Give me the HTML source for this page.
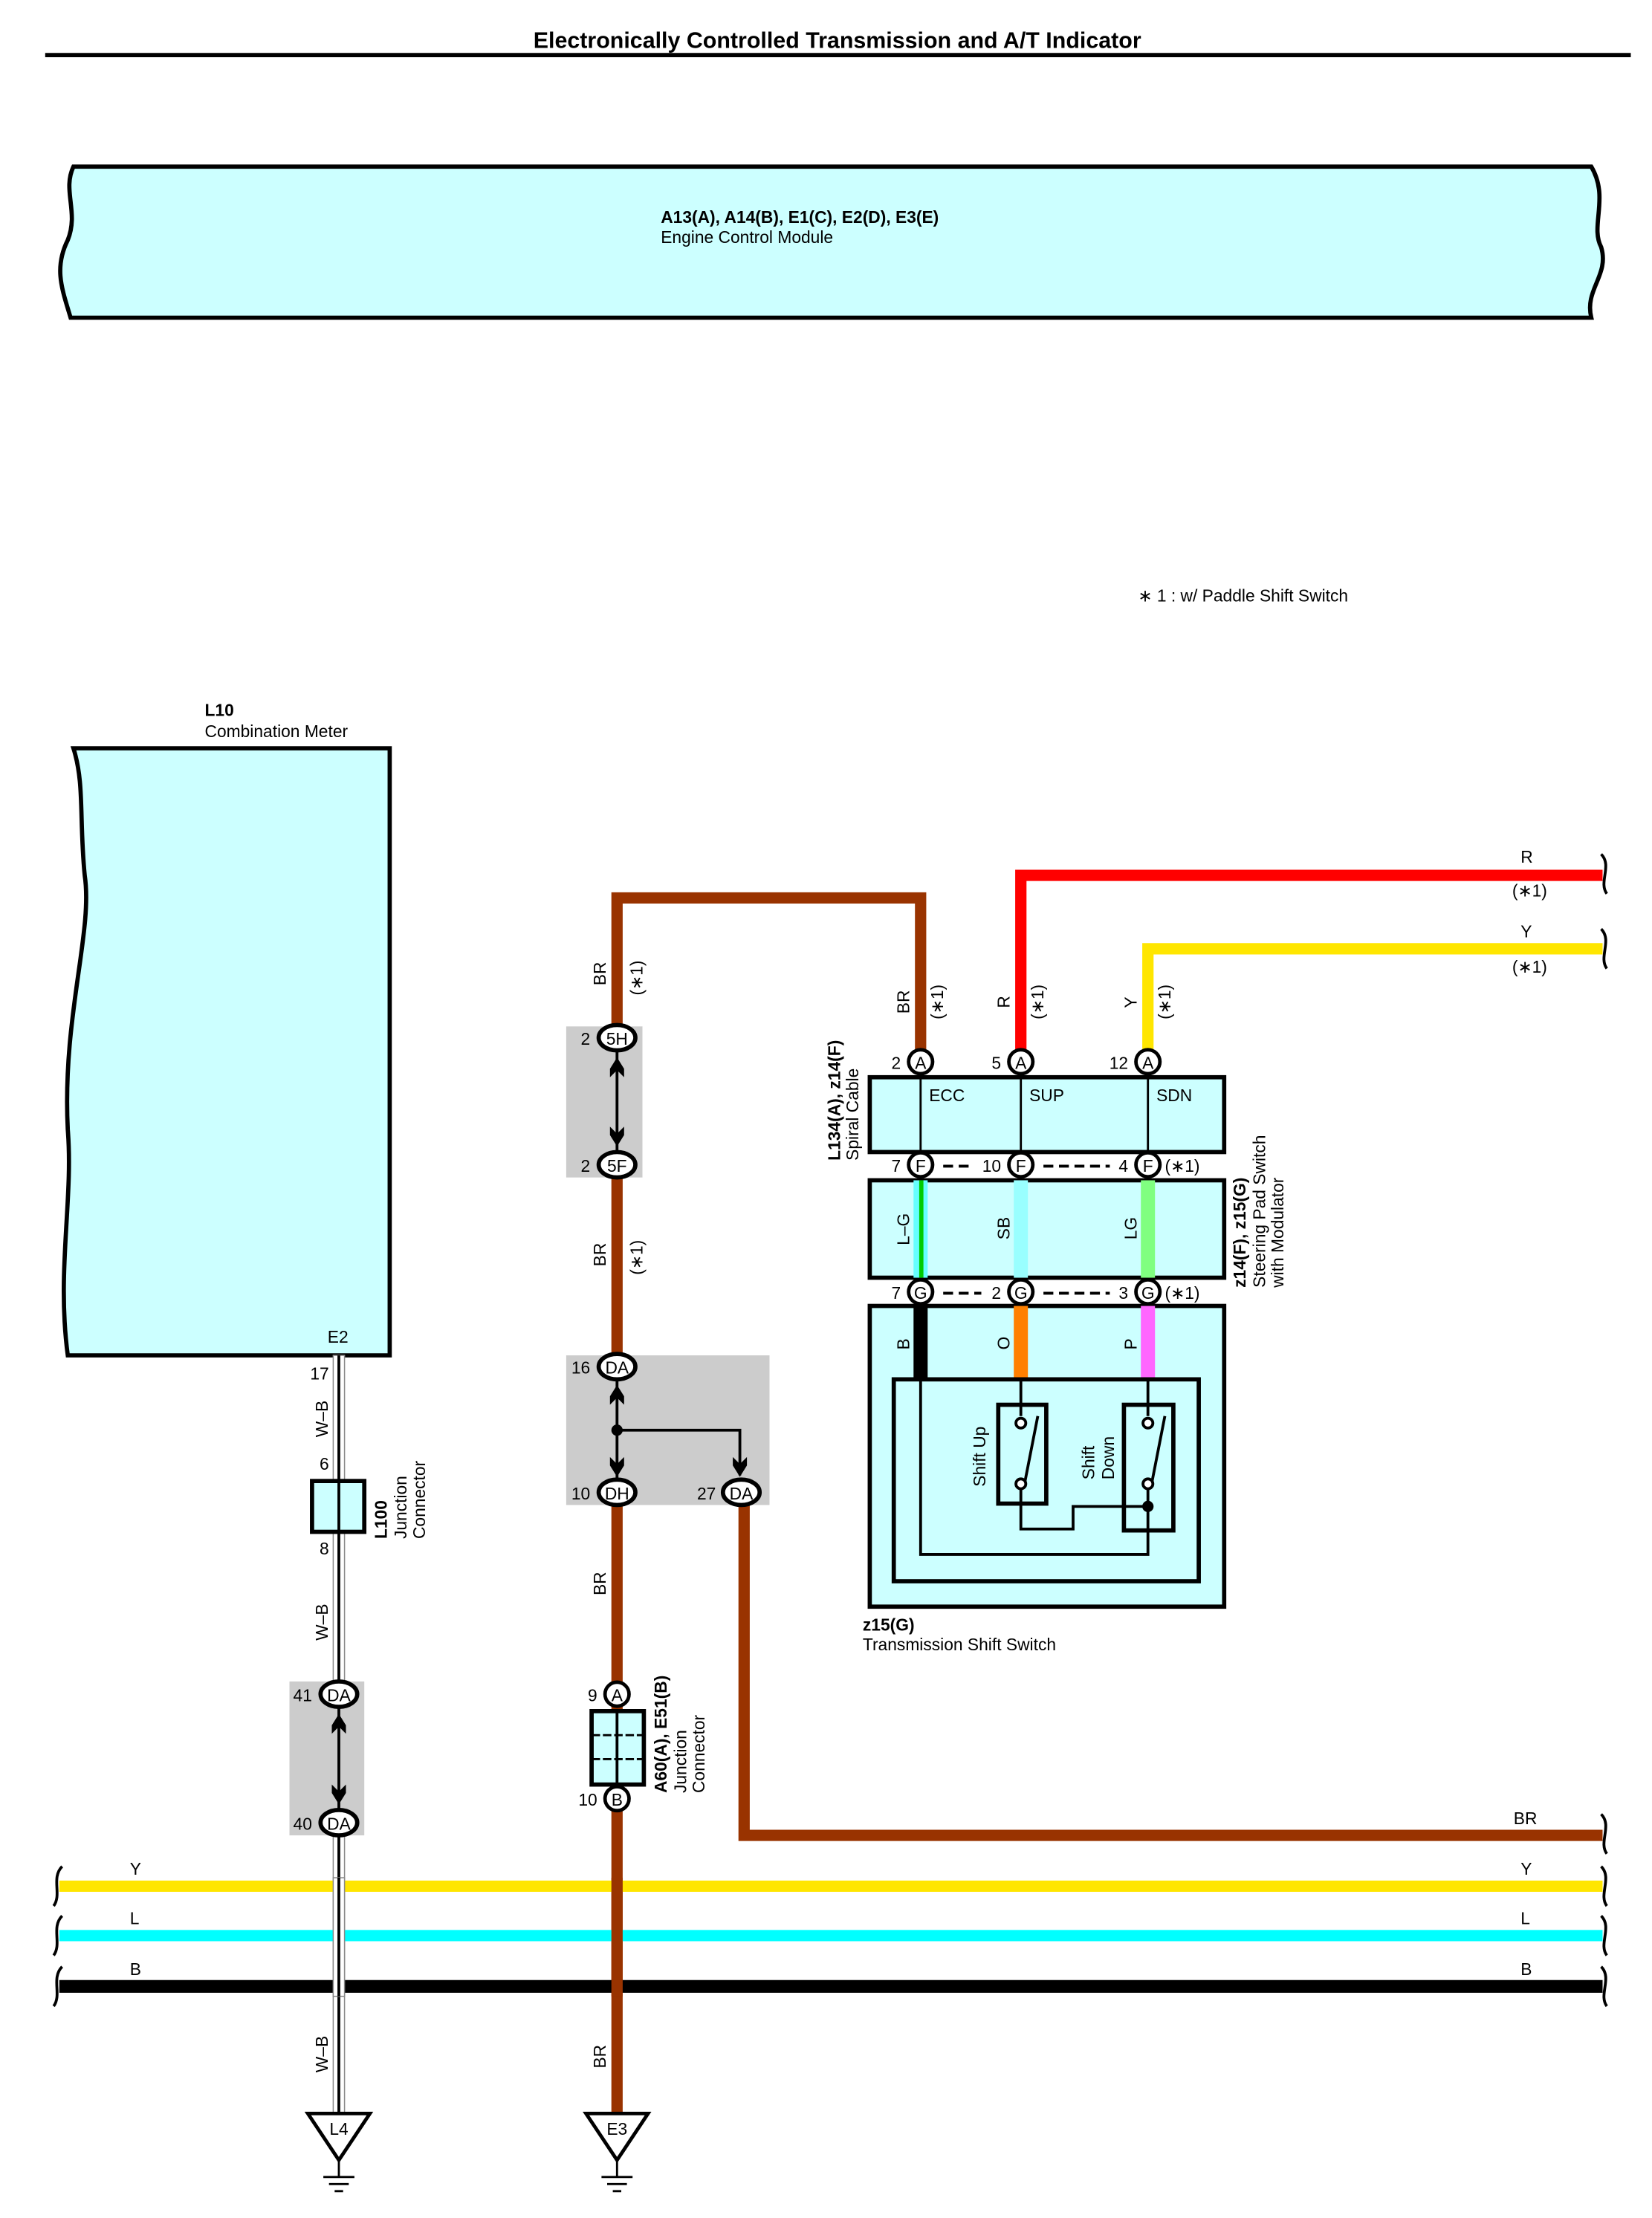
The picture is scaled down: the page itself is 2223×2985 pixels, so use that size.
<!DOCTYPE html>
<html><head><meta charset="utf-8"><style>
html,body{margin:0;padding:0;background:#fff;}
svg{display:block;}
text{font-family:"Liberation Sans",Arial,sans-serif;fill:#000;}
</style></head><body>
<svg width="2223" height="2985" viewBox="0 0 1170 1571" xmlns="http://www.w3.org/2000/svg">
<defs>
<path id="chU" d="M-5,2 L0,-6 L5,2 L5,8 L0,3 L-5,8 Z" fill="#000"/>
<path id="chD" d="M-5,-2 L0,6 L5,-2 L5,-8 L0,-3 L-5,-8 Z" fill="#000"/>
</defs>
<!-- title -->
<text x="593" y="34" font-size="16" font-weight="bold" text-anchor="middle">Electronically Controlled Transmission and A/T Indicator</text>
<line x1="32" y1="39" x2="1155" y2="39" stroke="#000" stroke-width="3"/>
<!-- ECM -->
<path d="M52,118 L1127,118 C1140,140 1126,160 1134,175 C1140,195 1122,205 1127,225 L50,225 C44,205 38,190 48,170 C56,150 44,135 52,118 Z" fill="#ccffff" stroke="#000" stroke-width="3"/>
<text x="468" y="158" font-size="12" font-weight="bold">A13(A), A14(B), E1(C), E2(D), E3(E)</text>
<text x="468" y="172" font-size="12">Engine Control Module</text>
<text x="806" y="426" font-size="12">∗ 1 : w/ Paddle Shift Switch</text>
<!-- L10 combination meter -->
<text x="145" y="507" font-size="12" font-weight="bold">L10</text>
<text x="145" y="522" font-size="12">Combination Meter</text>
<path d="M52,530 L276,530 L276,960 L48,960 C40,900 52,850 48,800 C44,720 66,660 60,620 C56,580 60,555 52,530 Z" fill="#ccffff" stroke="#000" stroke-width="3"/>
<text x="232" y="951" font-size="12">E2</text>
<!-- W-B wire -->
<rect x="236" y="960" width="8" height="540" fill="#fff" stroke="#888" stroke-width="0.8"/>
<line x1="240" y1="960" x2="240" y2="1500" stroke="#000" stroke-width="2"/>
<text x="233" y="977" font-size="12" text-anchor="end">17</text>
<text x="233" y="1041" font-size="12" text-anchor="end">6</text>
<text x="233" y="1101" font-size="12" text-anchor="end">8</text>
<text transform="translate(232,1018) rotate(-90)" font-size="12">W–B</text>
<text transform="translate(232,1162) rotate(-90)" font-size="12">W–B</text>
<text transform="translate(232,1468) rotate(-90)" font-size="12">W–B</text>
<rect x="221" y="1049" width="37" height="36" fill="#ccffff" stroke="#000" stroke-width="3"/>
<line x1="240" y1="1049" x2="240" y2="1085" stroke="#000" stroke-width="2"/>
<text transform="translate(274,1090) rotate(-90)" font-size="12" font-weight="bold">L100</text>
<text transform="translate(288,1090) rotate(-90)" font-size="12">Junction</text>
<text transform="translate(301,1090) rotate(-90)" font-size="12">Connector</text>
<rect x="205" y="1191" width="53" height="109" fill="#cccccc"/>
<line x1="240" y1="1208" x2="240" y2="1282" stroke="#000" stroke-width="2"/>
<use href="#chU" x="240" y="1220"/><use href="#chD" x="240" y="1272"/>
<ellipse cx="240" cy="1200" rx="13" ry="9" fill="#fff" stroke="#000" stroke-width="3"/>
<text x="240" y="1205" font-size="12" text-anchor="middle">DA</text>
<text x="221" y="1205" font-size="12" text-anchor="end">41</text>
<ellipse cx="240" cy="1291" rx="13" ry="9" fill="#fff" stroke="#000" stroke-width="3"/>
<text x="240" y="1296" font-size="12" text-anchor="middle">DA</text>
<text x="221" y="1296" font-size="12" text-anchor="end">40</text>
<!-- BR wire main -->
<polyline points="437,1500 437,636 652,636 652,752" fill="none" stroke="#993300" stroke-width="8"/>
<polyline points="527,1060 527,1300 1135,1300" fill="none" stroke="#993300" stroke-width="8"/>
<text x="1072" y="1292" font-size="12">BR</text>
<text transform="translate(429,698) rotate(-90)" font-size="12">BR</text>
<text transform="translate(455,705) rotate(-90)" font-size="12">(∗1)</text>
<text transform="translate(429,897) rotate(-90)" font-size="12">BR</text>
<text transform="translate(455,903) rotate(-90)" font-size="12">(∗1)</text>
<text transform="translate(429,1130) rotate(-90)" font-size="12">BR</text>
<text transform="translate(429,1465) rotate(-90)" font-size="12">BR</text>
<!-- grey box 5H/5F -->
<rect x="401" y="727" width="54" height="107" fill="#cccccc"/>
<line x1="437" y1="743" x2="437" y2="817" stroke="#000" stroke-width="2"/>
<use href="#chU" x="437" y="755"/><use href="#chD" x="437" y="806"/>
<ellipse cx="437" cy="735" rx="13" ry="9" fill="#fff" stroke="#000" stroke-width="3"/>
<text x="437" y="740" font-size="12" text-anchor="middle">5H</text>
<text x="418" y="740" font-size="12" text-anchor="end">2</text>
<ellipse cx="437" cy="825" rx="13" ry="9" fill="#fff" stroke="#000" stroke-width="3"/>
<text x="437" y="830" font-size="12" text-anchor="middle">5F</text>
<text x="418" y="830" font-size="12" text-anchor="end">2</text>
<!-- grey box DA/DH/DA -->
<rect x="401" y="960" width="144" height="106" fill="#cccccc"/>
<line x1="437" y1="976" x2="437" y2="1048" stroke="#000" stroke-width="2"/>
<polyline points="437,1013 524,1013 524,1045" fill="none" stroke="#000" stroke-width="2"/>
<circle cx="437" cy="1013" r="4"/>
<use href="#chU" x="437" y="987"/><use href="#chD" x="437" y="1040"/><use href="#chD" x="524" y="1040"/>
<ellipse cx="437" cy="968" rx="13" ry="9" fill="#fff" stroke="#000" stroke-width="3"/>
<text x="437" y="973" font-size="12" text-anchor="middle">DA</text>
<text x="418" y="973" font-size="12" text-anchor="end">16</text>
<ellipse cx="437" cy="1057" rx="13" ry="9" fill="#fff" stroke="#000" stroke-width="3"/>
<text x="437" y="1062" font-size="12" text-anchor="middle">DH</text>
<text x="418" y="1062" font-size="12" text-anchor="end">10</text>
<ellipse cx="525" cy="1057" rx="13" ry="9" fill="#fff" stroke="#000" stroke-width="3"/>
<text x="525" y="1062" font-size="12" text-anchor="middle">DA</text>
<text x="507" y="1062" font-size="12" text-anchor="end">27</text>
<!-- A60 junction -->
<rect x="419" y="1212" width="37" height="52" fill="#ccffff" stroke="#000" stroke-width="3"/>
<line x1="437" y1="1212" x2="437" y2="1264" stroke="#000" stroke-width="2"/>
<line x1="419" y1="1229" x2="456" y2="1229" stroke="#000" stroke-width="1.5" stroke-dasharray="6,2"/>
<line x1="419" y1="1246" x2="456" y2="1246" stroke="#000" stroke-width="1.5" stroke-dasharray="6,2"/>
<circle cx="437" cy="1200" r="8.5" fill="#fff" stroke="#000" stroke-width="2.5"/>
<text x="437" y="1205" font-size="12" text-anchor="middle">A</text>
<text x="423" y="1205" font-size="12" text-anchor="end">9</text>
<circle cx="437" cy="1274" r="8.5" fill="#fff" stroke="#000" stroke-width="2.5"/>
<text x="437" y="1279" font-size="12" text-anchor="middle">B</text>
<text x="423" y="1279" font-size="12" text-anchor="end">10</text>
<text transform="translate(472,1270) rotate(-90)" font-size="12" font-weight="bold">A60(A), E51(B)</text>
<text transform="translate(486,1270) rotate(-90)" font-size="12">Junction</text>
<text transform="translate(499,1270) rotate(-90)" font-size="12">Connector</text>
<!-- bus wires -->
<line x1="42" y1="1336" x2="1135" y2="1336" stroke="#ffe600" stroke-width="8"/>
<line x1="42" y1="1371" x2="1135" y2="1371" stroke="#00ffff" stroke-width="8"/>
<line x1="42" y1="1407" x2="1135" y2="1407" stroke="#000" stroke-width="9"/>
<rect x="236" y="1330" width="8" height="84" fill="#fff" stroke="#888" stroke-width="0.8"/>
<line x1="240" y1="1330" x2="240" y2="1414" stroke="#000" stroke-width="2"/>
<rect x="433" y="1330" width="8" height="84" fill="#993300"/>
<text x="92" y="1328" font-size="12">Y</text><text x="1077" y="1328" font-size="12">Y</text>
<text x="92" y="1363" font-size="12">L</text><text x="1077" y="1363" font-size="12">L</text>
<text x="92" y="1399" font-size="12">B</text><text x="1077" y="1399" font-size="12">B</text>
<g fill="none" stroke="#000" stroke-width="2">
<path d="M44,1322 C36,1330 44,1342 38,1350"/>
<path d="M44,1357 C36,1365 44,1377 38,1385"/>
<path d="M44,1393 C36,1401 44,1413 38,1421"/>
<path d="M1134,1285 C1142,1293 1132,1305 1138,1313"/>
<path d="M1134,1322 C1142,1330 1132,1342 1138,1350"/>
<path d="M1134,1357 C1142,1365 1132,1377 1138,1385"/>
<path d="M1134,1393 C1142,1401 1132,1413 1138,1421"/>
<path d="M1134,605 C1142,613 1132,625 1138,633"/>
<path d="M1134,658 C1142,666 1132,678 1138,686"/>
</g>
<!-- grounds -->
<g fill="#fff" stroke="#000" stroke-width="2.5">
<path d="M218,1497 L262,1497 L240,1530 Z"/>
<path d="M415,1497 L459,1497 L437,1530 Z"/>
</g>
<text x="240" y="1512" font-size="12" text-anchor="middle">L4</text>
<text x="437" y="1512" font-size="12" text-anchor="middle">E3</text>
<g stroke="#000" stroke-width="1.5">
<line x1="240" y1="1530" x2="240" y2="1542"/><line x1="229" y1="1542" x2="251" y2="1542"/><line x1="233" y1="1547" x2="247" y2="1547"/><line x1="237" y1="1552" x2="243" y2="1552"/>
<line x1="437" y1="1530" x2="437" y2="1542"/><line x1="426" y1="1542" x2="448" y2="1542"/><line x1="430" y1="1547" x2="444" y2="1547"/><line x1="434" y1="1552" x2="440" y2="1552"/>
</g>
<!-- R and Y wires -->
<polyline points="723,752 723,620 1135,620" fill="none" stroke="#ff0000" stroke-width="8"/>
<polyline points="813,752 813,672 1135,672" fill="none" stroke="#ffe600" stroke-width="8"/>
<text x="1077" y="611" font-size="12">R</text><text x="1071" y="635" font-size="12">(∗1)</text>
<text x="1077" y="664" font-size="12">Y</text><text x="1071" y="689" font-size="12">(∗1)</text>
<text transform="translate(644,718) rotate(-90)" font-size="12">BR</text>
<text transform="translate(668,722) rotate(-90)" font-size="12">(∗1)</text>
<text transform="translate(715,714) rotate(-90)" font-size="12">R</text>
<text transform="translate(739,722) rotate(-90)" font-size="12">(∗1)</text>
<text transform="translate(805,714) rotate(-90)" font-size="12">Y</text>
<text transform="translate(829,722) rotate(-90)" font-size="12">(∗1)</text>
<!-- spiral cable box -->
<rect x="616" y="763" width="251" height="53" fill="#ccffff" stroke="#000" stroke-width="3"/>
<line x1="652" y1="752" x2="652" y2="825" stroke="#000" stroke-width="1.5"/>
<line x1="723" y1="752" x2="723" y2="825" stroke="#000" stroke-width="1.5"/>
<line x1="813" y1="752" x2="813" y2="825" stroke="#000" stroke-width="1.5"/>
<text x="658" y="780" font-size="12">ECC</text>
<text x="729" y="780" font-size="12">SUP</text>
<text x="819" y="780" font-size="12">SDN</text>
<text transform="translate(595,822) rotate(-90)" font-size="12" font-weight="bold">L134(A), z14(F)</text>
<text transform="translate(608,822) rotate(-90)" font-size="12">Spiral Cable</text>
<!-- steering box -->
<rect x="616" y="836" width="251" height="69" fill="#ccffff" stroke="#000" stroke-width="3"/>
<rect x="647" y="836" width="10" height="69" fill="#66ffff"/>
<rect x="651" y="836" width="3" height="69" fill="#00cc00"/>
<rect x="718" y="836" width="10" height="69" fill="#99ffff"/>
<rect x="808" y="836" width="10" height="69" fill="#80ff80"/>
<text transform="translate(644,882) rotate(-90)" font-size="12">L–G</text>
<text transform="translate(715,878) rotate(-90)" font-size="12">SB</text>
<text transform="translate(805,878) rotate(-90)" font-size="12">LG</text>
<text transform="translate(882,912) rotate(-90)" font-size="12" font-weight="bold">z14(F), z15(G)</text>
<text transform="translate(896,912) rotate(-90)" font-size="12">Steering Pad Switch</text>
<text transform="translate(909,912) rotate(-90)" font-size="12">with Modulator</text>
<!-- shift switch box -->
<rect x="616" y="925" width="251" height="213" fill="#ccffff" stroke="#000" stroke-width="3"/>
<rect x="647" y="925" width="10" height="52" fill="#000"/>
<rect x="718" y="925" width="10" height="52" fill="#ff8000"/>
<rect x="808" y="925" width="10" height="52" fill="#ff66ff"/>
<text transform="translate(644,956) rotate(-90)" font-size="12">B</text>
<text transform="translate(715,956) rotate(-90)" font-size="12">O</text>
<text transform="translate(805,956) rotate(-90)" font-size="12">P</text>
<rect x="633" y="977" width="216" height="143" fill="none" stroke="#000" stroke-width="3"/>
<rect x="707" y="995" width="34" height="70" fill="none" stroke="#000" stroke-width="3"/>
<rect x="796" y="995" width="35" height="89" fill="none" stroke="#000" stroke-width="3"/>
<g fill="none" stroke="#000" stroke-width="2">
<polyline points="652,977 652,1101 813,1101 813,1052"/>
<polyline points="723,977 723,1003"/>
<polyline points="723,1052 723,1083 760,1083 760,1067 813,1067"/>
<polyline points="813,977 813,1003"/>
<line x1="726" y1="1049" x2="735" y2="1003"/>
<line x1="816" y1="1049" x2="825" y2="1003"/>
</g>
<g fill="#fff" stroke="#000" stroke-width="2">
<circle cx="723" cy="1008" r="3.5"/><circle cx="723" cy="1051" r="3.5"/>
<circle cx="813" cy="1008" r="3.5"/><circle cx="813" cy="1051" r="3.5"/>
</g>
<circle cx="813" cy="1067" r="4"/>
<text transform="translate(698,1053) rotate(-90)" font-size="12">Shift Up</text>
<text transform="translate(775,1048) rotate(-90)" font-size="12">Shift</text>
<text transform="translate(789,1048) rotate(-90)" font-size="12">Down</text>
<text x="611" y="1155" font-size="12" font-weight="bold">z15(G)</text>
<text x="611" y="1169" font-size="12">Transmission Shift Switch</text>
<!-- A/F/G connectors -->
<g font-size="12">
<circle cx="652" cy="752" r="8.5" fill="#fff" stroke="#000" stroke-width="2.5"/><text x="652" y="757" text-anchor="middle">A</text><text x="638" y="757" text-anchor="end">2</text>
<circle cx="723" cy="752" r="8.5" fill="#fff" stroke="#000" stroke-width="2.5"/><text x="723" y="757" text-anchor="middle">A</text><text x="709" y="757" text-anchor="end">5</text>
<circle cx="813" cy="752" r="8.5" fill="#fff" stroke="#000" stroke-width="2.5"/><text x="813" y="757" text-anchor="middle">A</text><text x="799" y="757" text-anchor="end">12</text>
<circle cx="652" cy="825" r="8.5" fill="#fff" stroke="#000" stroke-width="2.5"/><text x="652" y="830" text-anchor="middle">F</text><text x="638" y="830" text-anchor="end">7</text>
<circle cx="723" cy="825" r="8.5" fill="#fff" stroke="#000" stroke-width="2.5"/><text x="723" y="830" text-anchor="middle">F</text><text x="709" y="830" text-anchor="end">10</text>
<circle cx="813" cy="825" r="8.5" fill="#fff" stroke="#000" stroke-width="2.5"/><text x="813" y="830" text-anchor="middle">F</text><text x="799" y="830" text-anchor="end">4</text>
<text x="825" y="830">(∗1)</text>
<circle cx="652" cy="915" r="8.5" fill="#fff" stroke="#000" stroke-width="2.5"/><text x="652" y="920" text-anchor="middle">G</text><text x="638" y="920" text-anchor="end">7</text>
<circle cx="723" cy="915" r="8.5" fill="#fff" stroke="#000" stroke-width="2.5"/><text x="723" y="920" text-anchor="middle">G</text><text x="709" y="920" text-anchor="end">2</text>
<circle cx="813" cy="915" r="8.5" fill="#fff" stroke="#000" stroke-width="2.5"/><text x="813" y="920" text-anchor="middle">G</text><text x="799" y="920" text-anchor="end">3</text>
<text x="825" y="920">(∗1)</text>
</g>
<g stroke="#000" stroke-width="2" stroke-dasharray="7,4">
<line x1="668" y1="826" x2="688" y2="826"/>
<line x1="739" y1="826" x2="786" y2="826"/>
<line x1="668" y1="916" x2="695" y2="916"/>
<line x1="739" y1="916" x2="786" y2="916"/>
</g>
</svg>
</body></html>
